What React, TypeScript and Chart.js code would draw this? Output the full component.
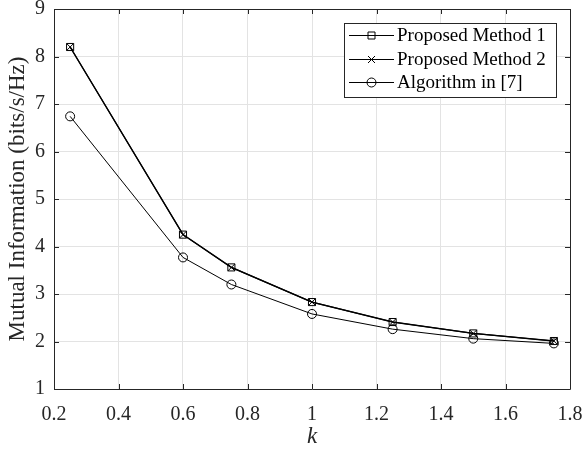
import React, { useEffect, useRef } from 'react';
import { Chart, registerables } from 'chart.js';

Chart.register(...registerables);

const kValues = [0.25, 0.6, 0.75, 1, 1.25, 1.5, 1.75];
const method1 = [8.2, 4.25, 3.56, 2.83, 2.41, 2.17, 2.01];
const method2 = [8.2, 4.25, 3.56, 2.83, 2.41, 2.17, 2.01];
const algorithm7 = [6.74, 3.77, 3.2, 2.58, 2.26, 2.06, 1.96];

const xTickValues = [0.2, 0.4, 0.6, 0.8, 1, 1.2, 1.4, 1.6, 1.8];
const xTickLabels = ['0.2', '0.4', '0.6', '0.8', '1', '1.2', '1.4', '1.6', '1.8'];
const yTickValues = [1, 2, 3, 4, 5, 6, 7, 8, 9];
const yTickLabels = ['1', '2', '3', '4', '5', '6', '7', '8', '9'];

const seriesNames = ['Proposed Method 1', 'Proposed Method 2', 'Algorithm in [7]'];
const seriesMarkers = ['rect', 'crossRot', 'circle'];

const FONT = "'Liberation Serif', 'Times New Roman', serif";
const INK = '#262626';

function drawMarker(ctx: CanvasRenderingContext2D, style: string, x: number, y: number) {
  ctx.beginPath();
  if (style === 'rect') {
    ctx.rect(x - 3.5, y - 3.5, 7, 7);
  } else if (style === 'crossRot') {
    ctx.moveTo(x - 3.5, y - 3.5);
    ctx.lineTo(x + 3.5, y + 3.5);
    ctx.moveTo(x + 3.5, y - 3.5);
    ctx.lineTo(x - 3.5, y + 3.5);
  } else {
    ctx.arc(x, y, 4.5, 0, Math.PI * 2);
  }
  ctx.stroke();
}

const framePlugin = {
  id: 'frame',
  afterDraw(chart: any) {
    const { ctx, chartArea } = chart;
    const { left, right, top, bottom } = chartArea;
    const xs = chart.scales.x;
    const ys = chart.scales.y;
    ctx.save();
    ctx.strokeStyle = INK;
    ctx.lineWidth = 1;
    ctx.beginPath();
    ctx.rect(Math.round(left) + 0.5, Math.round(top) + 0.5, Math.round(right - left), Math.round(bottom - top));
    ctx.stroke();
    const tl = 5;
    ctx.beginPath();
    xTickValues.forEach((v) => {
      const px = Math.round(xs.getPixelForValue(v)) + 0.5;
      ctx.moveTo(px, bottom);
      ctx.lineTo(px, bottom - tl);
      ctx.moveTo(px, top);
      ctx.lineTo(px, top + tl);
    });
    yTickValues.forEach((v) => {
      const py = Math.round(ys.getPixelForValue(v)) + 0.5;
      ctx.moveTo(left, py);
      ctx.lineTo(left + tl, py);
      ctx.moveTo(right, py);
      ctx.lineTo(right - tl, py);
    });
    ctx.stroke();
    ctx.restore();
  },
};

const legendPlugin = {
  id: 'boxLegend',
  afterDraw(chart: any) {
    const { ctx, chartArea } = chart;
    const boxRight = chartArea.right - 14;
    const boxTop = chartArea.top + 14;
    const boxLeft = boxRight - 212;
    const boxBottom = boxTop + 74;
    ctx.save();
    ctx.fillStyle = '#ffffff';
    ctx.fillRect(boxLeft, boxTop, boxRight - boxLeft, boxBottom - boxTop);
    ctx.strokeStyle = INK;
    ctx.lineWidth = 1;
    ctx.strokeRect(Math.round(boxLeft) + 0.5, Math.round(boxTop) + 0.5, Math.round(boxRight - boxLeft), Math.round(boxBottom - boxTop));
    ctx.font = `19px ${FONT}`;
    ctx.textBaseline = 'middle';
    ctx.textAlign = 'left';
    seriesNames.forEach((name, i) => {
      const y = Math.round(boxTop + 12 + i * 23.5) + 0.5;
      ctx.strokeStyle = '#000';
      ctx.lineWidth = 1;
      ctx.beginPath();
      ctx.moveTo(boxLeft + 5, y);
      ctx.lineTo(boxLeft + 50, y);
      ctx.stroke();
      drawMarker(ctx, seriesMarkers[i], boxLeft + 27.5, y);
      ctx.fillStyle = '#000';
      ctx.fillText(name, boxLeft + 53, y + 1);
    });
    ctx.restore();
  },
};

export default function App() {
  const canvasRef = useRef<HTMLCanvasElement | null>(null);

  useEffect(() => {
    const canvas = canvasRef.current;
    if (!canvas) return;
    const mk = (vals: number[]) => kValues.map((k, i) => ({ x: k, y: vals[i] }));
    const chart = new Chart(canvas, {
      type: 'line',
      data: {
        datasets: [
          {
            label: seriesNames[0],
            data: mk(method1),
            borderColor: '#000',
            borderWidth: 1.4,
            pointStyle: 'rect',
            pointRadius: 5,
            pointBorderWidth: 1,
            pointBorderColor: '#000',
            pointBackgroundColor: 'rgba(0,0,0,0)',
            tension: 0,
          },
          {
            label: seriesNames[1],
            data: mk(method2),
            borderColor: '#000',
            borderWidth: 1.2,
            pointStyle: 'crossRot',
            pointRadius: 5,
            pointBorderWidth: 1,
            pointBorderColor: '#000',
            pointBackgroundColor: 'rgba(0,0,0,0)',
            tension: 0,
          },
          {
            label: seriesNames[2],
            data: mk(algorithm7),
            borderColor: '#000',
            borderWidth: 1,
            pointStyle: 'circle',
            pointRadius: 4.5,
            pointBorderWidth: 1,
            pointBorderColor: '#000',
            pointBackgroundColor: 'rgba(0,0,0,0)',
            tension: 0,
          },
        ],
      },
      options: {
        responsive: false,
        animation: false,
        events: [],
        layout: { padding: { top: 9, right: 12, left: 0, bottom: 0 } },
        plugins: {
          legend: { display: false },
          tooltip: { enabled: false },
        },
        scales: {
          x: {
            type: 'linear',
            min: 0.2,
            max: 1.8,
            afterBuildTicks: (scale: any) => {
              scale.ticks = xTickValues.map((v) => ({ value: v }));
            },
            afterFit: (scale: any) => {
              scale.height = 63;
              scale.paddingLeft = 0;
              scale.paddingRight = 0;
            },
            ticks: {
              callback: (_v: any, i: number) => xTickLabels[i],
              font: { family: FONT, size: 20 },
              color: INK,
              padding: 14,
              maxRotation: 0,
              autoSkip: false,
            },
            grid: { color: '#e3e3e3', drawTicks: false, lineWidth: 1 },
            border: { display: false },
            title: {
              display: true,
              text: 'k',
              font: { family: FONT, size: 23, style: 'italic' },
              color: INK,
              padding: { top: 0, bottom: 1 },
            },
          },
          y: {
            type: 'linear',
            min: 1,
            max: 9,
            afterBuildTicks: (scale: any) => {
              scale.ticks = yTickValues.map((v) => ({ value: v }));
            },
            afterFit: (scale: any) => {
              scale.width = 54;
              scale.paddingTop = 0;
              scale.paddingBottom = 0;
            },
            ticks: {
              callback: (_v: any, i: number) => yTickLabels[i],
              font: { family: FONT, size: 20 },
              color: INK,
              padding: 9,
              autoSkip: false,
            },
            grid: { color: '#e3e3e3', drawTicks: false, lineWidth: 1 },
            border: { display: false },
            title: {
              display: true,
              text: 'Mutual Information (bits/s/Hz)',
              font: { family: FONT, size: 23 },
              color: INK,
              padding: { top: 4, bottom: 0 },
            },
          },
        },
      },
      plugins: [framePlugin, legendPlugin],
    });
    return () => chart.destroy();
  }, []);

  return (
    <div style={{ position: 'absolute', left: 0, top: 0, width: 582, height: 452, background: '#fff' }}>
      <canvas ref={canvasRef} width={582} height={452} style={{ display: 'block' }} />
    </div>
  );
}
